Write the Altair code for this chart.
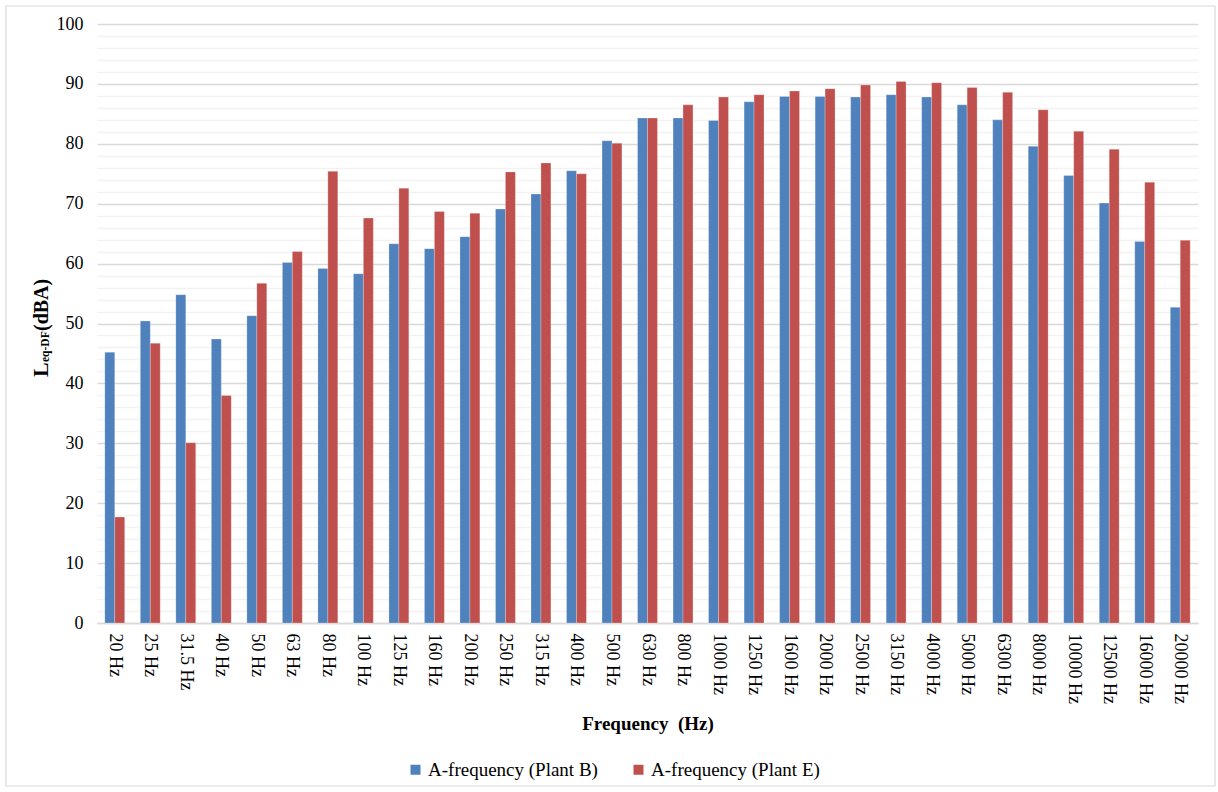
import altair as alt
import pandas as pd

categories = ["20 Hz", "25 Hz", "31.5 Hz", "40 Hz", "50 Hz", "63 Hz", "80 Hz", "100 Hz",
              "125 Hz", "160 Hz", "200 Hz", "250 Hz", "315 Hz", "400 Hz", "500 Hz", "630 Hz",
              "800 Hz", "1000 Hz", "1250 Hz", "1600 Hz", "2000 Hz", "2500 Hz", "3150 Hz",
              "4000 Hz", "5000 Hz", "6300 Hz", "8000 Hz", "10000 Hz", "12500 Hz", "16000 Hz",
              "20000 Hz"]
plant_b = [45.2, 50.4, 54.8, 47.4, 51.3, 60.2, 59.2, 58.3, 63.3, 62.5, 64.5, 69.1, 71.6,
           75.5, 80.5, 84.3, 84.3, 83.9, 87.0, 87.9, 87.9, 87.8, 88.2, 87.8, 86.5, 84.0,
           79.6, 74.7, 70.1, 63.7, 52.7]
plant_e = [17.7, 46.7, 30.1, 38.0, 56.7, 62.0, 75.4, 67.6, 72.6, 68.7, 68.4, 75.3, 76.8,
           75.0, 80.1, 84.3, 86.5, 87.8, 88.2, 88.8, 89.2, 89.8, 90.4, 90.2, 89.4, 88.6,
           85.7, 82.1, 79.1, 73.6, 63.9]
series_names = ["A-frequency (Plant B)", "A-frequency (Plant E)"]
series_colors = ["#4F81BD", "#C0504D"]
y_ticks = list(range(0, 101, 2))

rows = []
for i, c in enumerate(categories):
    rows.append({"freq": c, "series": series_names[0], "value": plant_b[i]})
    rows.append({"freq": c, "series": series_names[1], "value": plant_e[i]})
df = pd.DataFrame(rows)

FONT = "Liberation Serif"
W, H = 1101, 599

bars = alt.Chart(df).mark_bar(stroke="white", strokeWidth=0.4, strokeOpacity=0.6).encode(
    x=alt.X("freq:N", sort=categories,
            scale=alt.Scale(paddingInner=0.44, paddingOuter=0.22),
            axis=alt.Axis(title="Frequency\u00a0 (Hz)", labelAngle=90, labelFontSize=18,
                          labelFont=FONT, labelColor="black", labelPadding=10,
                          ticks=False, domainColor="#d9d9d9", domainWidth=1.5,
                          titleFont=FONT, titleFontSize=19, titleFontWeight="bold",
                          titleColor="black", titlePadding=11, grid=False)),
    xOffset=alt.XOffset("series:N", sort=series_names),
    y=alt.Y("value:Q", scale=alt.Scale(domain=[0, 100], nice=False),
            axis=alt.Axis(title=None, values=y_ticks,
                          labelExpr="datum.value % 10 === 0 ? datum.label : ''",
                          labelFont=FONT, labelFontSize=18, labelColor="black",
                          labelPadding=14, ticks=False, domain=False,
                          gridColor=alt.condition("datum.value % 10 === 0",
                                                  alt.value("#d9d9d9"), alt.value("#f2f2f2")),
                          gridWidth=1.5)),
    color=alt.Color("series:N", sort=series_names,
                    scale=alt.Scale(domain=series_names, range=series_colors),
                    legend=alt.Legend(title=None, orient="none", legendX=309, legendY=736,
                                      direction="horizontal", columns=2, symbolType="square",
                                      symbolSize=100, symbolStrokeWidth=0, labelFont=FONT,
                                      labelFontSize=19, labelColor="black", labelOffset=3,
                                      labelLimit=400, columnPadding=31)),
)

one = pd.DataFrame({"a": [0]})
border = alt.Chart(one).mark_rect(fill=None, stroke="#d9d9d9", strokeWidth=1.2).encode(
    x=alt.value(-91), x2=alt.value(1118), y=alt.value(-18), y2=alt.value(762))

ytitle_L = alt.Chart(one).mark_text(text="L", angle=270, align="left", baseline="alphabetic",
                                     font=FONT, fontSize=22, fontWeight="bold", color="black").encode(
    x=alt.value(-49), y=alt.value(353))
ytitle_sub = alt.Chart(one).mark_text(text="eq-DF", angle=270, align="left", baseline="alphabetic",
                                       font=FONT, fontSize=11.5, fontWeight="bold", color="black").encode(
    x=alt.value(-48), y=alt.value(338))
ytitle_unit = alt.Chart(one).mark_text(text="(dBA)", angle=270, align="left", baseline="alphabetic",
                                        font=FONT, fontSize=20, fontWeight="bold", color="black").encode(
    x=alt.value(-49), y=alt.value(307))

chart = alt.layer(border, bars, ytitle_L, ytitle_sub, ytitle_unit).properties(
    width=W, height=H,
    autosize=alt.AutoSizeParams(type="none"),
    padding={"left": 97, "top": 24, "right": 20, "bottom": 169},
    background="white",
).configure_view(stroke=None)

chart.save("out.html", embed_options={"renderer": "svg", "actions": False})
